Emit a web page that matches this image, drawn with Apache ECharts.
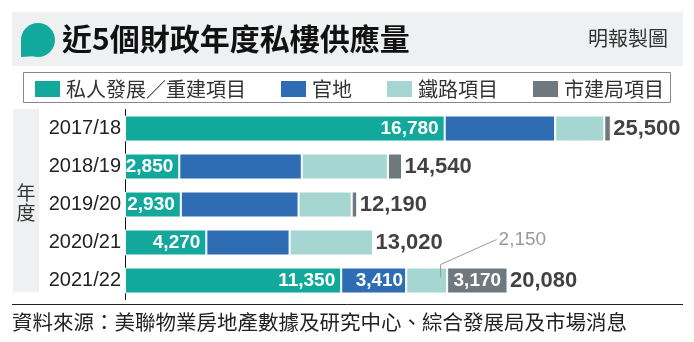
<!DOCTYPE html>
<html><head><meta charset="utf-8">
<script src="https://cdn.jsdelivr.net/npm/echarts@6/dist/echarts.min.js"></script>
<style>html,body{margin:0;padding:0;background:#fff}#c{width:694px;height:342px}</style>
</head><body><div id="c"></div>
<script>
const categories = ['2017/18', '2018/19', '2019/20', '2020/21', '2021/22'];
const privateDev = [16780, 2850, 2930, 4270, 11350];
const govLand = [5800, 6430, 6180, 4370, 3410];
const railway = [2580, 4520, 2790, 4380, 2150];
const ura = [340, 740, 290, 0, 3170];
const totals = [25500, 14540, 12190, 13020, 20080];
const seriesNames = ['私人發展／重建項目', '官地', '鐵路項目', '市建局項目'];
const colors = ['#12a89b', '#2e6cb3', '#a5d6d1', '#6f787f'];

const CJK = '"Noto Sans CJK TC", "Noto Sans", sans-serif';
const NUM = '"Liberation Sans", Arial, sans-serif';
const fmt = v => Number(v).toLocaleString('en-US');

const chart = echarts.init(document.getElementById('c'), null, {renderer: 'canvas'});

const valLabel = {show: true, color: '#fff', fontFamily: NUM, fontWeight: 'bold', fontSize: 19,
  formatter: p => fmt(p.value)};

function barSeries(idx, data, labelFor) {
  return {
    name: seriesNames[idx], type: 'bar', stack: 'all', barWidth: 26,
    itemStyle: {color: colors[idx], borderColor: '#fff', borderWidth: 1},
    emphasis: {disabled: true},
    data: data.map((v, i) => {
      const lab = labelFor(i);
      return lab ? {value: v, label: Object.assign({}, valLabel, lab)} : {value: v, label: {show: false}};
    })
  };
}

const option = {
  animation: false,
  textStyle: {fontFamily: CJK},
  grid: {left: 125, right: 694 - 125 - 533.4, top: 109.5, height: 190, containLabel: false},
  xAxis: {type: 'value', min: 0, max: 28000, show: false},
  yAxis: {
    type: 'category', data: categories, inverse: true,
    axisLine: {show: true, lineStyle: {color: '#111', width: 1}},
    axisTick: {show: false},
    axisLabel: {fontFamily: NUM, fontSize: 20, color: '#222', margin: 4}
  },
  legend: {
    left: 33, top: 79, padding: 0, itemWidth: 27, itemHeight: 18, itemGap: 33,
    icon: 'rect', selectedMode: false,
    data: seriesNames,
    textStyle: {fontFamily: CJK, fontSize: 20, color: '#333'}
  },
  series: [
    barSeries(0, privateDev, () => ({position: 'insideRight', distance: 6})),
    barSeries(1, govLand, i => i === 4 ? {position: 'insideRight', distance: 3} : null),
    barSeries(2, railway, () => null),
    barSeries(3, ura, i => i === 4 ? {position: 'inside'} : null),
    {
      type: 'scatter', name: 'total', symbolSize: 1, silent: true,
      itemStyle: {color: 'rgba(0,0,0,0)'},
      data: totals.map((v, i) => [v, categories[i]]),
      label: {show: true, position: 'right', distance: 2, formatter: p => fmt(p.value[0]),
        fontFamily: NUM, fontWeight: 'bold', fontSize: 22, color: '#111'}
    }
  ]
};
chart.setOption(option);

// annotation for the small railway segment of the last year
const li = 4;
const segEnd = privateDev[li] + govLand[li] + railway[li];
const pEnd = chart.convertToPixel({gridIndex: 0}, [segEnd - railway[li] * 0.16, li]);
const x0 = pEnd[0], yc = pEnd[1];
const xT = x0 + 56, yT = yc - 41;

chart.setOption({
  graphic: [
    {type: 'rect', z: -10, shape: {x: 12, y: 12, width: 671, height: 54}, style: {fill: '#eef0f1'}},
    {type: 'circle', z: 5, shape: {cx: 38, cy: 40, r: 17}, style: {fill: '#12a89b'}},
    {type: 'polygon', z: 5, shape: {points: [[21, 40], [21, 57], [36, 56]]}, style: {fill: '#12a89b'}},
    {type: 'text', z: 5, style: {text: '近5個財政年度私樓供應量', x: 62, y: 39, fontFamily: CJK, fontWeight: 'bold', fontSize: 30, fill: '#111', verticalAlign: 'middle', textVerticalAlign: 'middle'}},
    {type: 'text', z: 5, style: {text: '明報製圖', x: 668, y: 38, align: 'right', textAlign: 'right', fontFamily: CJK, fontSize: 20, fill: '#333', verticalAlign: 'middle', textVerticalAlign: 'middle'}},
    {type: 'rect', z: -5, shape: {x: 23.5, y: 72.5, width: 647, height: 30}, style: {fill: 'none', stroke: '#888', lineWidth: 1}},
    {type: 'rect', z: -10, shape: {x: 13, y: 109, width: 26, height: 183}, style: {fill: '#eef0f1'}},
    {type: 'text', z: 5, style: {text: '年\n度', x: 26, y: 203, align: 'center', textAlign: 'center', verticalAlign: 'middle', textVerticalAlign: 'middle', fontFamily: CJK, fontSize: 19, lineHeight: 20, fill: '#333'}},
    {type: 'line', z: 5, shape: {x1: 12, y1: 304.5, x2: 683, y2: 304.5}, style: {stroke: '#222', lineWidth: 1}},
    {type: 'text', z: 5, style: {text: '資料來源：美聯物業房地產數據及研究中心、綜合發展局及市場消息', x: 12, y: 322, verticalAlign: 'middle', textVerticalAlign: 'middle', fontFamily: CJK, fontSize: 20.5, fill: '#222'}},
    {type: 'polyline', z: 20, shape: {points: [[x0, yc - 3], [x0, yc - 16], [xT, yT]]}, style: {stroke: '#999', lineWidth: 1, fill: 'none'}},
    {type: 'text', z: 20, style: {text: fmt(railway[li]), x: xT + 2, y: yT, verticalAlign: 'middle', textVerticalAlign: 'middle', fontFamily: NUM, fontSize: 19, fill: '#9a9a9a'}}
  ]
});
</script></body></html>
